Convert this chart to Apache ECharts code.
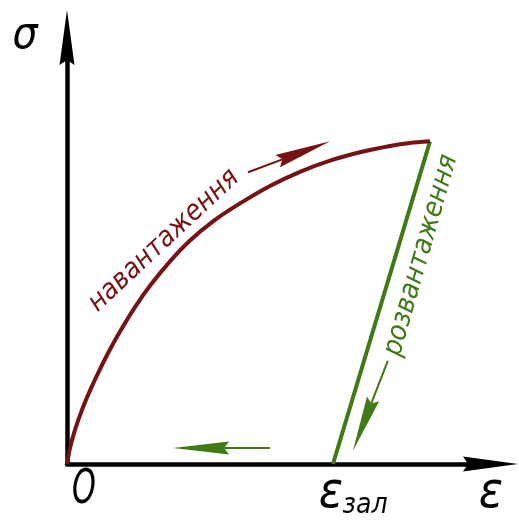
<!DOCTYPE html>
<html>
<head>
<meta charset="utf-8">
<title>Діаграма навантаження і розвантаження</title>
<script src="https://cdn.jsdelivr.net/npm/echarts@6/dist/echarts.min.js"></script>
<style>
  html, body { margin: 0; padding: 0; background: #ffffff; }
  #chart { width: 519px; height: 521px; }
</style>
</head>
<body>
<div id="chart"></div>
<script>
// Loading branch of the stress–strain diagram (ε, σ in relative units)
const loadStrain = [0, 0.71, 1.90, 3.56, 5.46, 7.84, 10.21, 12.59, 16.15, 19.71, 24.47, 29.22, 35.15, 41.09, 48.22, 55.34, 62.47, 69.60, 76.72, 81.47, 86.22];
const loadStress = [0, 3.78, 8.04, 12.77, 17.30, 22.39, 27.00, 31.25, 37.00, 42.03, 47.80, 52.72, 57.57, 61.47, 65.58, 68.91, 71.54, 73.52, 75.01, 75.72, 76.10];

// Unloading branch: straight line from the peak down to the residual strain
const unloadStrain = [86.22, 63.18];
const unloadStress = [76.10, 0];

// Direction arrows: [fromStrain, fromStress, toStrain, toStress]
const loadArrows = [[43.0, 68.8, 62.5, 76.1]];
const unloadArrows = [[76.2, 24.3, 67.9, 3.07], [48.2, 3.78, 25.2, 3.78]];

const MAROON = '#761214';
const GREEN = '#3f7a14';
const FONT = '"DejaVu Sans Condensed", "DejaVu Sans", sans-serif';

const chart = echarts.init(document.getElementById('chart'), null, { renderer: 'canvas' });

function zip(xs, ys) { return xs.map((x, i) => [x, ys[i]]); }

function arrowRenderer(color) {
  return function (params, api) {
    const p0 = api.coord([api.value(0), api.value(1)]);
    const p1 = api.coord([api.value(2), api.value(3)]);
    const dx = p1[0] - p0[0], dy = p1[1] - p0[1];
    const len = Math.hypot(dx, dy);
    const ux = dx / len, uy = dy / len;
    const nx = -uy, ny = ux;
    const headLen = 56, halfW = 6.5, notch = 5;
    const base = [p1[0] - ux * headLen, p1[1] - uy * headLen];
    const inner = [p1[0] - ux * (headLen - notch), p1[1] - uy * (headLen - notch)];
    return {
      type: 'group',
      children: [
        { type: 'line', shape: { x1: p0[0], y1: p0[1], x2: inner[0], y2: inner[1] },
          style: { stroke: color, lineWidth: 2 } },
        { type: 'polygon',
          shape: { points: [p1, [base[0] + nx * halfW, base[1] + ny * halfW], inner, [base[0] - nx * halfW, base[1] - ny * halfW]] },
          style: { fill: color } }
      ]
    };
  };
}

const axisArrow = 'path://M0,0 L7.5,55 L0,50 L-7.5,55 Z';

const axisCommon = {
  type: 'value',
  min: 0,
  max: 100,
  axisLine: {
    show: true,
    onZero: false,
    symbol: ['none', axisArrow],
    symbolSize: [15, 55],
    symbolOffset: [0, 2.5],
    lineStyle: { color: '#000000', width: 4.5 }
  },
  axisTick: { show: false },
  axisLabel: { show: false },
  splitLine: { show: false }
};

chart.setOption({
  backgroundColor: '#ffffff',
  animation: false,
  grid: { left: 67, right: 31, top: 40, bottom: 57 },
  xAxis: Object.assign({}, axisCommon),
  yAxis: Object.assign({}, axisCommon),
  series: [
    {
      name: 'навантаження',
      type: 'line',
      data: zip(loadStrain, loadStress),
      smooth: 0.25,
      showSymbol: false,
      lineStyle: { color: MAROON, width: 4 },
      z: 3
    },
    {
      name: 'розвантаження',
      type: 'line',
      data: zip(unloadStrain, unloadStress),
      showSymbol: false,
      lineStyle: { color: GREEN, width: 4 },
      z: 2
    },
    {
      type: 'custom',
      data: loadArrows,
      renderItem: arrowRenderer(MAROON),
      clip: false,
      z: 4
    },
    {
      type: 'custom',
      data: unloadArrows,
      renderItem: arrowRenderer(GREEN),
      clip: false,
      z: 4
    }
  ]
});

// Text annotations anchored in data coordinates
const notes = [
  { text: 'навантаження', at: [23.0, 52.7], size: 28, color: MAROON, rotate: 43 },
  { text: 'розвантаження', at: [84.1, 49.2], size: 28, color: GREEN, rotate: 74 },
  { text: 'σ', at: [-9.98, 100.9], size: 44, color: '#000000', rotate: 0 },
  { text: 'O', at: [4.04, -6.15], size: 48, color: '#000000', rotate: 0, scaleX: 0.7 },
  { text: 'ε', at: [62.7, -7.09], size: 50, color: '#000000', rotate: 0 },
  { text: 'зал', at: [70.8, -9.93], size: 28, color: '#000000', rotate: 0 },
  { text: 'ε', at: [100.7, -7.09], size: 50, color: '#000000', rotate: 0 }
];

chart.setOption({
  graphic: notes.map(function (n) {
    const p = chart.convertToPixel({ gridIndex: 0 }, n.at);
    return {
      type: 'text',
      x: p[0],
      y: p[1],
      rotation: n.rotate * Math.PI / 180,
      scaleX: n.scaleX || 1,
      silent: true,
      style: {
        text: n.text,
        x: 0,
        y: 0,
        fill: n.color,
        font: 'oblique ' + n.size + 'px ' + FONT,
        align: 'center',
        verticalAlign: 'middle'
      }
    };
  })
});
</script>
</body>
</html>
